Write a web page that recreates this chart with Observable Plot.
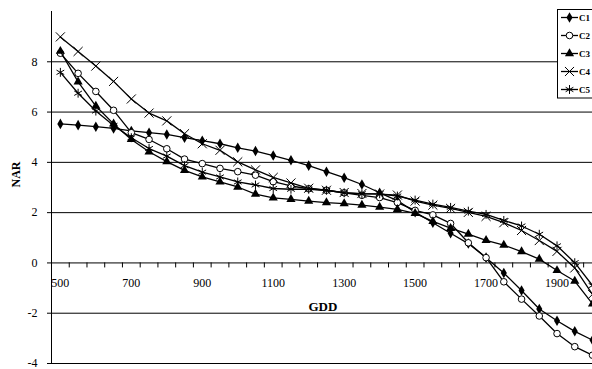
<!DOCTYPE html>
<html>
<head>
<meta charset="utf-8">
<script src="https://cdn.jsdelivr.net/npm/d3@7"></script>
<script src="https://cdn.jsdelivr.net/npm/@observablehq/plot@0.6"></script>
<style>
  html, body { margin: 0; padding: 0; background: #fff; overflow: hidden; }
  #wrap { position: relative; width: 592px; height: 369px; overflow: hidden; }
  #legend { position: absolute; left: 557px; top: 9px; }
</style>
</head>
<body>
<div id="wrap"><div id="chart"></div><svg id="legend" width="35" height="90"></svg></div>
<script>
const gdd = [500, 550, 600, 650, 700, 750, 800, 850, 900, 950, 1000, 1050, 1100, 1150, 1200, 1250,
             1300, 1350, 1400, 1450, 1500, 1550, 1600, 1650, 1700, 1750, 1800, 1850, 1900, 1950, 2000];

const seriesNames = ["C1", "C2", "C3", "C4", "C5"];

const diamondVals = [5.53, 5.48, 5.42, 5.35, 5.25, 5.18, 5.11, 4.98, 4.86, 4.74, 4.58, 4.45, 4.27, 4.08, 3.87, 3.63,
                     3.39, 3.12, 2.79, 2.48, 2.02, 1.60, 1.18, 0.77, 0.21, -0.40, -1.10, -1.83, -2.30, -2.72, -3.07];
const circleVals  = [8.34, 7.54, 6.82, 6.07, 5.18, 4.91, 4.54, 4.13, 3.95, 3.76, 3.63, 3.49, 3.23, 3.06, 2.95, 2.89,
                     2.79, 2.69, 2.60, 2.40, 2.09, 1.91, 1.57, 0.80, 0.21, -0.75, -1.44, -2.11, -2.81, -3.33, -3.67];
const triangleVals = [8.42, 7.20, 6.24, 5.53, 4.91, 4.42, 4.03, 3.68, 3.42, 3.22, 3.02, 2.74, 2.59, 2.53, 2.46, 2.40,
                      2.36, 2.30, 2.22, 2.13, 1.97, 1.65, 1.38, 1.15, 0.90, 0.71, 0.45, 0.15, -0.30, -0.72, -1.63];
const crossVals   = [8.99, 8.41, 7.83, 7.22, 6.52, 5.96, 5.65, 5.14, 4.74, 4.48, 4.02, 3.70, 3.40, 3.18, 2.97, 2.89,
                     2.80, 2.76, 2.74, 2.70, 2.46, 2.30, 2.17, 2.01, 1.85, 1.60, 1.29, 0.89, 0.46, -0.20, -1.25];
const starVals    = [7.58, 6.75, 6.04, 5.47, 4.98, 4.55, 4.25, 3.87, 3.61, 3.42, 3.22, 3.10, 2.96, 2.93, 2.93, 2.89,
                     2.79, 2.75, 2.75, 2.66, 2.50, 2.34, 2.21, 2.06, 1.93, 1.69, 1.47, 1.14, 0.68, 0.01, -0.90];

const yTicks = [-4, -2, 0, 2, 4, 6, 8];
const xLabels = [500, 700, 900, 1100, 1300, 1500, 1700, 1900];
const xTickMarks = [475, 525, 575, 625, 675, 725, 775, 825, 875, 925, 975, 1025, 1075, 1125, 1175, 1225,
                    1275, 1325, 1375, 1425, 1475, 1525, 1575, 1625, 1675, 1725, 1775, 1825, 1875, 1925, 1975];

const styles = [
  {vals: diamondVals,  symbol: "diamond",  fill: "black", stroke: "none",  r: 3.2},
  {vals: circleVals,   symbol: "circle",   fill: "white", stroke: "black", r: 3.3},
  {vals: triangleVals, symbol: "triangle", fill: "black", stroke: "none",  r: 3.4},
  {vals: crossVals,    symbol: "times",    fill: "none",  stroke: "black", r: 4.2},
  {vals: starVals,     symbol: "asterisk", fill: "none",  stroke: "black", r: 4.2}
];

const rows = [];
styles.forEach((s, k) => gdd.forEach((g, i) => rows.push({series: seriesNames[k], gdd: g, v: s.vals[i]})));

const font = "Liberation Serif, Times New Roman, serif";

const marks = [
  Plot.ruleY(yTicks, {y: d => d, stroke: "black", strokeWidth: 1}),
  Plot.ruleX([475], {x: d => d, y1: -4, y2: 10, stroke: "black"}),
  Plot.axisY({ticks: yTicks, tickSize: 4, tickPadding: 10, fontSize: 12, fontFamily: font, label: null, tickFormat: d => String(d), stroke: "black", color: "black"}),
  Plot.ruleX(xTickMarks, {x: d => d, y1: 0, y2: 0, insetBottom: -5, stroke: "black"}),
  Plot.text(xLabels, {x: d => d, y: 0, dy: 20, text: d => String(d), fontSize: 12, fontFamily: font, fill: "black"}),
  Plot.text(["GDD"], {frameAnchor: "top-left", dx: 257, dy: 290, text: d => d, fontSize: 13, fontWeight: "bold", fontFamily: font, fill: "black"}),
  Plot.text(["NAR"], {frameAnchor: "left", dx: -35, text: d => d, rotate: -90, fontSize: 12, fontWeight: "bold", fontFamily: font, fill: "black"})
];

styles.forEach((s, k) => {
  const data = rows.filter(r => r.series === seriesNames[k]);
  marks.push(Plot.line(data, {x: "gdd", y: "v", stroke: "black", strokeWidth: 1.3}));
  marks.push(Plot.dot(data, {x: "gdd", y: "v", symbol: () => s.symbol, r: s.r, fill: s.fill, stroke: s.stroke, strokeWidth: 1}));
});

const chart = Plot.plot({
  width: 592,
  height: 369,
  marginLeft: 51,
  marginRight: 0,
  marginTop: 11,
  marginBottom: 6,
  style: {background: "white", overflow: "hidden"},
  x: {type: "linear", domain: [475, 2000], axis: null},
  y: {domain: [-4, 10], axis: null},
  symbol: {type: "identity"},
  marks
});
document.getElementById("chart").appendChild(chart);

// legend
const lg = d3.select("#legend");
lg.append("rect").attr("x", 0.5).attr("y", 0.5).attr("width", 60).attr("height", 88.5)
  .attr("fill", "white").attr("stroke", "black").attr("stroke-width", 1);
const symMap = {diamond: d3.symbolDiamond, circle: d3.symbolCircle, triangle: d3.symbolTriangle, times: d3.symbolTimes, asterisk: d3.symbolAsterisk};
styles.forEach((s, k) => {
  const y = 8.5 + k * 18;
  lg.append("line").attr("x1", 4).attr("x2", 21).attr("y1", y).attr("y2", y).attr("stroke", "black").attr("stroke-width", 1.3);
  lg.append("path").attr("transform", `translate(12.5,${y})`)
    .attr("d", d3.symbol(symMap[s.symbol], Math.PI * s.r * s.r)())
    .attr("fill", s.fill).attr("stroke", s.stroke).attr("stroke-width", 1);
  lg.append("text").attr("x", 22).attr("y", y).attr("dy", "0.35em")
    .attr("font-family", font).attr("font-size", 9).attr("font-weight", "bold").text(seriesNames[k]);
});
</script>
</body>
</html>
